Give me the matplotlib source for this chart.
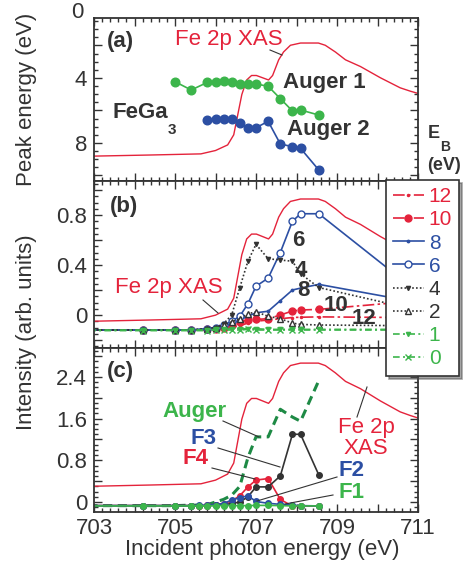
import matplotlib
matplotlib.use('Agg')
import matplotlib.pyplot as plt
from matplotlib.ticker import MultipleLocator, FuncFormatter
from matplotlib.lines import Line2D

plt.rcParams['font.family'] = ['Liberation Sans', 'DejaVu Sans']

RED = '#e4233b'
BLUE = '#2c4fa3'
GREEN = '#3cb54b'
DARK = '#333333'

W, H = 466, 566

# Fe 2p XAS, normalised (0 = pre-edge, 1 = top of the edge)
xas_e = [702.9, 703.0, 704.4, 705.64, 706.0, 706.3, 706.45, 706.55, 706.65, 706.77, 706.89,
         707.01, 707.16, 707.31, 707.41, 707.56, 707.68, 707.85, 708.1, 708.54, 708.71,
         708.96, 709.21, 709.58, 710.07, 710.56, 710.81, 711.0, 711.1]
xas_i = [-0.01, -0.01, 0.0, 0.01, 0.04, 0.09, 0.18, 0.36, 0.54, 0.67, 0.71,
         0.71, 0.69, 0.67, 0.71, 0.85, 0.92, 0.98, 1.0, 1.0, 0.98,
         0.92, 0.85, 0.79, 0.69, 0.60, 0.57, 0.55, 0.55]

# (a) Auger peak energies
auger1_e = [705.0, 705.4, 705.8, 706.0, 706.2, 706.4, 706.6, 706.8, 707.0, 707.3, 707.6, 707.9, 708.1, 708.55]
auger1_pk = [4.23, 4.74, 4.27, 4.23, 4.18, 4.25, 4.35, 4.37, 4.37, 4.51, 5.27, 6.03, 5.97, 6.28]
auger2_e = [705.8, 706.0, 706.2, 706.4, 706.6, 706.8, 707.0, 707.3, 707.6, 707.9, 708.1, 708.55]
auger2_pk = [6.60, 6.54, 6.50, 6.54, 6.79, 7.06, 7.06, 6.67, 8.06, 8.23, 8.33, 9.66]

# (b) intensity vs incident energy for each E_B
eb = [702.5, 704.2, 705.0, 705.4, 705.8, 706.0, 706.2, 706.4, 706.6, 706.8, 707.0, 707.3, 707.6, 707.9, 708.1, 708.55, 710.5]
b12 = [-0.12, -0.12, -0.12, -0.12, -0.12, -0.115, -0.11, -0.10, -0.085, -0.065, -0.05, -0.04, -0.03, -0.02, -0.018, -0.015, -0.02]
b10 = [-0.12, -0.12, -0.12, -0.12, -0.115, -0.11, -0.10, -0.08, -0.055, -0.04, -0.035, -0.03, 0.0, 0.032, 0.04, 0.045, 0.10]
b8 = [-0.12, -0.12, -0.12, -0.12, -0.11, -0.10, -0.09, -0.07, -0.04, -0.01, 0.018, 0.03, 0.115, 0.20, 0.215, 0.245, 0.13]
b6 = [-0.12, -0.12, -0.12, -0.12, -0.11, -0.10, -0.08, -0.05, -0.01, 0.09, 0.23, 0.295, 0.50, 0.75, 0.81, 0.81, 0.31]
b4 = [-0.12, -0.12, -0.12, -0.12, -0.11, -0.10, -0.07, 0.0, 0.22, 0.43, 0.565, 0.45, 0.44, 0.43, 0.33, 0.22, 0.075]
b2 = [-0.12, -0.12, -0.12, -0.12, -0.11, -0.10, -0.08, -0.055, -0.03, 0.01, 0.025, -0.01, -0.03, -0.065, -0.075, -0.08, -0.085]
b1 = [-0.12, -0.12, -0.12, -0.12, -0.12, -0.115, -0.115, -0.11, -0.11, -0.11, -0.11, -0.115, -0.115, -0.115, -0.115, -0.115, -0.115]
b0 = [-0.125, -0.125, -0.125, -0.125, -0.125, -0.12, -0.12, -0.12, -0.12, -0.115, -0.12, -0.12, -0.12, -0.12, -0.12, -0.12, -0.12]
eb_labels = ['12', '10', '8', '6', '4', '2', '1', '0']

# (c) partial components
ec = [702.5, 704.2, 705.0, 705.4, 705.6, 705.8, 706.0, 706.2, 706.4, 706.6, 706.8, 707.0, 707.3, 707.6, 707.9, 708.1, 708.55]
c_auger = [-0.07, -0.07, -0.07, -0.06, -0.06, -0.05, 0.0, 0.05, 0.13, 0.30, 0.85, 1.25, 1.25, 1.78, 1.63, 1.55, 2.33]
c_f1 = [-0.075, -0.075, -0.075, -0.075, -0.075, -0.075, -0.07, -0.07, -0.07, -0.07, -0.07, -0.065, -0.065, -0.07, -0.075, -0.075, -0.075]
c_f2 = [-0.07, -0.07, -0.07, -0.07, -0.065, -0.06, -0.05, -0.03, 0.04, 0.08, 0.12, 0.01, -0.025, -0.045, -0.06, -0.07, -0.075]
c_f3 = [-0.07, -0.07, -0.07, -0.07, -0.07, -0.07, -0.065, -0.05, -0.03, 0.0, 0.10, 0.29, 0.29, 0.50, 1.30, 1.30, 0.52]
c_f4 = [-0.07, -0.07, -0.07, -0.07, -0.07, -0.065, -0.05, -0.03, 0.02, 0.12, 0.29, 0.42, 0.45, 0.05, -0.08, -0.08, -0.08]


def fp(x, y):
    # pixel position -> figure fraction
    return x / W, 1 - y / H


def only_every(step, base=0.0):
    def f(v, pos):
        k = (v - base) / step
        if abs(k - round(k)) < 1e-6:
            return '%g' % round(v, 3)
        return ''
    return FuncFormatter(f)


fig = plt.figure(figsize=(W / 100, H / 100), dpi=100)
left, width = 94 / W, 324 / W
ax_a = fig.add_axes([left, 1 - 181 / H, width, 163 / H])
ax_b = fig.add_axes([left, 1 - 348 / H, width, 167 / H])
ax_c = fig.add_axes([left, 1 - 512 / H, width, 164 / H])

for ax in (ax_a, ax_b, ax_c):
    ax.set_xlim(703, 711)
    ax.xaxis.set_major_locator(MultipleLocator(1))
    ax.xaxis.set_minor_locator(MultipleLocator(0.2))
    ax.xaxis.set_major_formatter(only_every(2, 703))
    ax.tick_params(which='both', direction='in', top=True, right=True,
                   color=DARK, labelcolor=DARK, labelsize=16, width=1)
    ax.tick_params(which='major', length=6, pad=5)
    ax.tick_params(which='minor', length=3)
    for s in ax.spines.values():
        s.set_color(DARK)
        s.set_linewidth(1.3)
ax_a.tick_params(labelbottom=False)
ax_b.tick_params(labelbottom=False)
ax_c.tick_params(axis='x', pad=4)

# (a)
ax_a.set_ylim(10.34, 0.31)
ax_a.yaxis.set_major_locator(MultipleLocator(2))
ax_a.yaxis.set_minor_locator(MultipleLocator(0.5))
ax_a.yaxis.set_major_formatter(only_every(4))
ax_a.plot(xas_e, [8.74 - v * 6.89 for v in xas_i], color=RED, lw=1.0)
ax_a.plot(auger1_e, auger1_pk, '-o', color=GREEN, ms=6.2, lw=1.2)
ax_a.plot(auger2_e, auger2_pk, '-o', color=BLUE, ms=6.2, lw=1.2)

# (b)
ax_b.set_ylim(-0.264, 1.072)
ax_b.yaxis.set_major_locator(MultipleLocator(0.2))
ax_b.yaxis.set_minor_locator(MultipleLocator(0.05))
ax_b.yaxis.set_major_formatter(only_every(0.4))
ax_b.plot(xas_e, [-0.04 + v * 0.968 for v in xas_i], color=RED, lw=1.0)
dashdot = (0, (7, 2, 1.5, 2))
gdash = (0, (4, 2, 1.2, 2))
dots = (0, (1, 1.3))
b_styles = [
    (b12, dict(color=RED, ls=dashdot, marker='.', ms=3)),
    (b10, dict(color=RED, ls=dashdot, marker='o', ms=5)),
    (b8, dict(color=BLUE, ls='-', marker='.', ms=3.5)),
    (b6, dict(color=BLUE, ls='-', marker='o', ms=5, mfc='white')),
    (b4, dict(color=DARK, ls=dots, marker='v', ms=3)),
    (b2, dict(color=DARK, ls=dots, marker='^', ms=4.5, mfc='white')),
    (b1, dict(color=GREEN, ls=gdash, marker='v', ms=3)),
    (b0, dict(color=GREEN, ls=gdash, marker='x', ms=4)),
]
handles = []
for vals, st in b_styles:
    ln, = ax_b.plot(eb, vals, lw=1.2, **st)
    handles.append(ln)

# (c)
ax_c.set_ylim(-0.192, 2.956)
ax_c.yaxis.set_major_locator(MultipleLocator(0.4))
ax_c.yaxis.set_minor_locator(MultipleLocator(0.1))
ax_c.yaxis.set_major_formatter(only_every(0.8))
ax_c.plot(xas_e, [0.326 + v * 2.34 for v in xas_i], color=RED, lw=1.0)
ax_c.plot(ec, c_auger, color='#1e8a45', lw=2.2, ls=(0, (3, 1.8)))
ax_c.plot(ec, c_f4, '-o', color=RED, ms=4, lw=1.2)
ax_c.plot(ec, c_f3, '-o', color=DARK, ms=4, lw=1.2)
ax_c.plot(ec, c_f2, '-o', color=BLUE, ms=4, lw=1.2)
ax_c.plot(ec, c_f1, '-o', color=GREEN, ms=4, lw=1.2)

# legend
leg = fig.legend(handles, eb_labels, loc='upper left', bbox_to_anchor=fp(386, 180),
                 fontsize=15, frameon=True, fancybox=False, shadow=True,
                 handlelength=1.45, handletextpad=0.25, labelspacing=0.2,
                 borderpad=0.35, borderaxespad=0)
leg.get_frame().set_edgecolor(DARK)
leg.get_frame().set_linewidth(1.2)
for t, (vals, st) in zip(leg.get_texts(), b_styles):
    t.set_color(st['color'])


def label(x, y, s, color=DARK, size=16, weight='bold', ha='left'):
    fig.text(*fp(x, y), s, color=color, fontsize=size, fontweight=weight, ha=ha, va='center')


def leader(x0, y0, x1, y1):
    fig.add_artist(Line2D([x0 / W, x1 / W], [1 - y0 / H, 1 - y1 / H], color=DARK, lw=0.8))


# texts for (a)
label(107, 41, '(a)')
label(175, 39, 'Fe 2p XAS', color=RED, weight='normal')
leader(270, 50, 282, 55)
label(283, 83, 'Auger 1')
label(287, 130, 'Auger 2')
label(112, 112, 'FeGa')
label(168, 130, '3', size=11)
label(428, 133, 'E', size=13)
label(440, 147, 'B', size=10)
label(427, 166, '(eV)', size=13)
fig.text(*fp(84, 13), '0', color=DARK, fontsize=16, ha='right', va='center')

# texts for (b)
label(110, 207, '(b)')
label(115, 288, 'Fe 2p XAS', color=RED, weight='normal')
leader(203, 300, 218, 313)
label(298, 241, '6', size=16, ha='center')
label(301, 270, '4', size=16, ha='center')
label(303, 291, '8', size=16, ha='center')
label(336, 305, '10', size=16, ha='center')
label(364, 318, '12', size=16, ha='center')

# texts for (c)
label(107, 371, '(c)')
label(162, 412, 'Auger', color=GREEN)
label(190, 438, 'F3', color=BLUE)
label(183, 459, 'F4', color=RED)
label(338, 470, 'F2', color=BLUE)
label(338, 493, 'F1', color=GREEN)
label(366, 427, 'Fe 2p', color=RED, weight='normal', ha='center')
label(366, 448, 'XAS', color=RED, weight='normal', ha='center')
leader(223, 421, 259, 437)
leader(218, 448, 280, 467)
leader(212, 468, 255, 479)
leader(337, 477, 257, 501)
leader(333, 495, 285, 504)
leader(357, 417, 367, 387)

# axis titles
fig.text(*fp(27, 99), 'Peak energy (eV)', rotation=90, color=DARK, fontsize=16, ha='center', va='center')
fig.text(*fp(27, 332), 'Intensity (arb. units)', rotation=90, color=DARK, fontsize=16, ha='center', va='center')
fig.text(*fp(262, 550), 'Incident photon energy (eV)', color=DARK, fontsize=16, ha='center', va='center')

fig.savefig('out.png', dpi=100)
